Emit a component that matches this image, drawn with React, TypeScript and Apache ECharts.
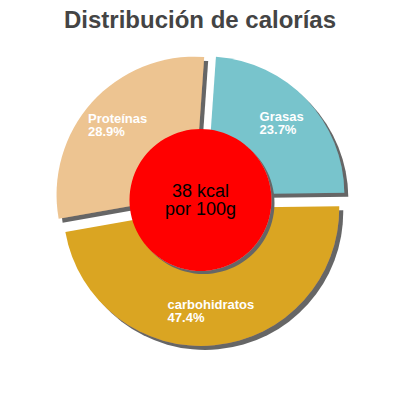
import { useEffect, useRef } from 'react';
import * as echarts from 'echarts';

const names = ['Grasas', 'carbohidratos', 'Proteínas'];
const shares = [23.7, 47.4, 28.9];
const colors = ['#78c4cc', '#daa520', '#edc491'];
const energyLines = ['38 kcal', 'por 100g'];

const FONT = 'Liberation Sans, Arial, sans-serif';

export default function App() {
  const ref = useRef<HTMLDivElement>(null);

  useEffect(() => {
    if (!ref.current) return;
    const chart = echarts.init(ref.current, undefined, { renderer: 'svg' });

    const data = names.map((name, i) => ({
      name,
      value: shares[i],
      selected: true,
      itemStyle: { color: colors[i] },
    }));

    const shadow = {
      shadowColor: '#666666',
      shadowBlur: 0,
      shadowOffsetX: 4,
      shadowOffsetY: 4,
    };

    chart.setOption({
      animation: false,
      title: {
        text: 'Distribución de calorías',
        left: 'center',
        top: 2,
        textStyle: { fontFamily: FONT, fontSize: 24, fontWeight: 'bold', color: '#444444' },
      },
      series: [
        {
          type: 'pie',
          z: 2,
          center: [200.5, 200],
          radius: [0, 138],
          startAngle: 86,
          clockwise: true,
          selectedMode: 'multiple',
          selectedOffset: 8,
          silent: true,
          label: { show: false },
          labelLine: { show: false },
          itemStyle: { borderWidth: 0, ...shadow },
          select: { itemStyle: { borderWidth: 0 } },
          data,
        },
        {
          type: 'pie',
          z: 3,
          center: [200.5, 200],
          radius: [0, 71],
          silent: true,
          itemStyle: { color: '#ff0000', ...shadow, shadowOffsetX: 3, shadowOffsetY: 3 },
          label: {
            show: true,
            position: 'center',
            formatter: energyLines.join('\n'),
            fontFamily: FONT,
            fontSize: 18,
            lineHeight: 18,
            color: '#000000',
          },
          labelLine: { show: false },
          data: [{ name: 'energia', value: 1 }],
        },
        {
          // transparent ring, only used to place the labels further out
          type: 'pie',
          z: 4,
          center: [200.5, 200],
          radius: [63, 138],
          startAngle: 86,
          clockwise: true,
          selectedMode: 'multiple',
          selectedOffset: 8,
          silent: true,
          itemStyle: { color: 'transparent', borderWidth: 0 },
          select: { itemStyle: { color: 'transparent', borderWidth: 0 } },
          label: {
            show: true,
            position: 'inside',
            formatter: '{n|{b}}\n{p|{c}%}',
            rich: {
              n: { fontFamily: FONT, fontSize: 13, fontWeight: 'bold', color: '#ffffff', lineHeight: 13, align: 'left' },
              p: { fontFamily: FONT, fontSize: 13, fontWeight: 'bold', color: '#ffffff', lineHeight: 13, align: 'left' },
            },
          },
          labelLine: { show: false },
          data: names.map((name, i) => ({
            name,
            value: shares[i],
            selected: true,
          })),
        },
      ],
    });

    return () => chart.dispose();
  }, []);

  return (
    <div
      ref={ref}
      style={{ position: 'fixed', left: 0, top: 0, width: '400px', height: '400px', background: '#ffffff' }}
    />
  );
}
